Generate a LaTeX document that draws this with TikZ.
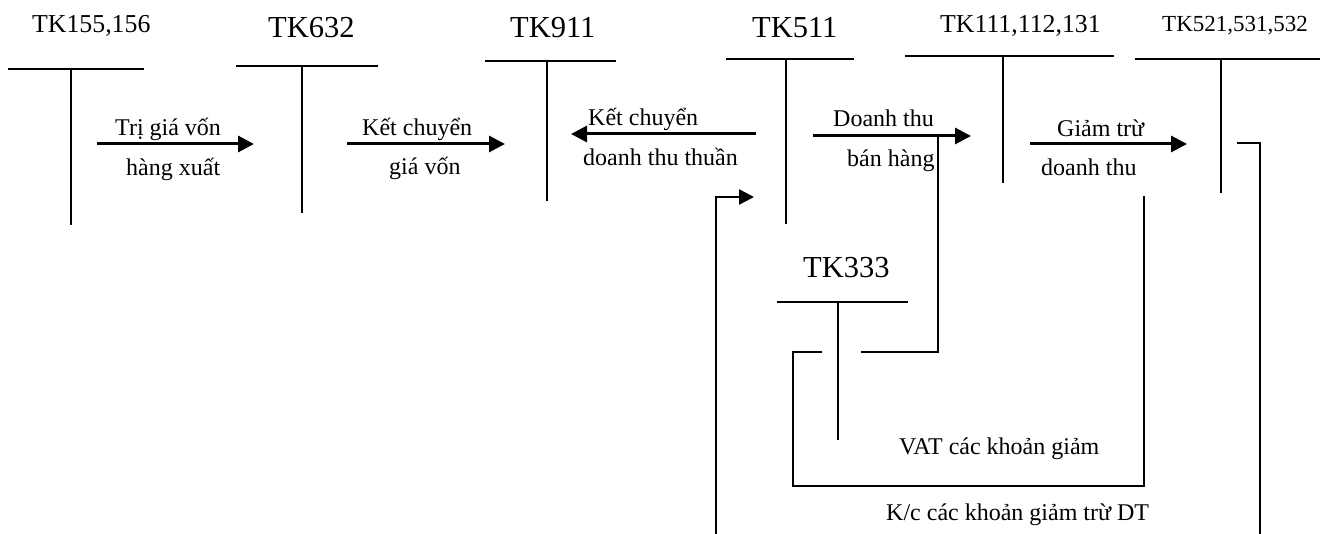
\documentclass[tikz,border=0pt]{standalone}
\usepackage{fontspec}
\setmainfont{Liberation Serif}
\usetikzlibrary{arrows.meta}
\tikzset{
  acct/.style={line width=2pt},
  flow/.style={line width=3pt,-{Triangle[length=16pt,width=16pt]}},
  flowsm/.style={line width=2.5pt,-{Triangle[length=15pt,width=15pt]}},
  link/.style={line width=2pt},
  txt/.style={inner sep=0pt,anchor=base west,font=\fontsize{24}{28}\selectfont},
  bigtk/.style={inner sep=0pt,anchor=base west,font=\fontsize{30.5}{34}\selectfont},
  midtk/.style={inner sep=0pt,anchor=base west,font=\fontsize{25.8}{30}\selectfont},
  smtk/.style={inner sep=0pt,anchor=base west,font=\fontsize{23}{27}\selectfont},
}
\begin{document}
\begin{tikzpicture}[x=1pt,y=-1pt]
\useasboundingbox (0,0) rectangle (1325,534);
% account titles
\node[midtk] (t155) at (32,33) {TK155,156};
\node[bigtk] (t632) at (268,38) {TK632};
\node[bigtk] (t911) at (510,38) {TK911};
\node[bigtk] (t511) at (752,38) {TK511};
\node[midtk] (t111) at (940,33) {TK111,112,131};
\node[smtk]  (t521) at (1162,32) {TK521,531,532};
\node[bigtk] (t333) at (803,278) {TK333};
% T-account geometry
\coordinate (a1l) at (8,69);    \coordinate (a1r) at (144,69);  \coordinate (a1t) at (71,69);   \coordinate (a1b) at (71,225);
\coordinate (a2l) at (236,66);  \coordinate (a2r) at (378,66);  \coordinate (a2t) at (302,66);  \coordinate (a2b) at (302,213);
\coordinate (a3l) at (485,61);  \coordinate (a3r) at (616,61);  \coordinate (a3t) at (547,61);  \coordinate (a3b) at (547,201);
\coordinate (a4l) at (726,59);  \coordinate (a4r) at (854,59);  \coordinate (a4t) at (786,59);  \coordinate (a4b) at (786,224);
\coordinate (a5l) at (905,56);  \coordinate (a5r) at (1114,56); \coordinate (a5t) at (1003,56); \coordinate (a5b) at (1003,183);
\coordinate (a6l) at (1135,59); \coordinate (a6r) at (1320,59); \coordinate (a6t) at (1221,59); \coordinate (a6b) at (1221,193);
\coordinate (a7l) at (777,302); \coordinate (a7r) at (908,302); \coordinate (a7t) at (838,302); \coordinate (a7b) at (838,440);
\foreach \i in {1,...,7}{
  \draw[acct] (a\i l) -- (a\i r);
  \draw[acct] (a\i t) -- (a\i b);
}
% flow arrows
\coordinate (f1s) at (97,144);   \coordinate (f1e) at (254,144);
\coordinate (f2s) at (347,144);  \coordinate (f2e) at (505,144);
\coordinate (f3s) at (756,134);  \coordinate (f3e) at (571,134);
\coordinate (f4s) at (813,136);  \coordinate (f4e) at (971,136);
\coordinate (f5s) at (1030,144); \coordinate (f5e) at (1187,144);
\draw[flow] (f1s) -- (f1e);
\draw[flow] (f2s) -- (f2e);
\draw[flow] (f3s) -- (f3e);
\draw[flow] (f4s) -- (f4e);
\draw[flow] (f5s) -- (f5e);
% bottom arrow into TK511
\coordinate (b1) at (716,534); \coordinate (b2) at (754,197);
\draw[flowsm] (b1) |- (b2);
% Doanh thu -> TK333
\coordinate (d1) at (938,136); \coordinate (d2) at (938,352); \coordinate (d3) at (861,352);
\draw[link] (d1) -- (d2) -- (d3);
% K/c link
\coordinate (k1) at (822,352); \coordinate (k2) at (793,352); \coordinate (k3) at (793,486);
\coordinate (k4) at (1144,486); \coordinate (k5) at (1144,196);
\draw[link] (k1) -- (k2) -- (k3) -- (k4) -- (k5);
% right tick
\coordinate (r1) at (1237,143); \coordinate (r2) at (1260,143); \coordinate (r3) at (1260,534);
\draw[link] (r1) -- (r2) -- (r3);
% labels
\node[txt] (l1a) at (115,136) {Trị giá vốn};
\node[txt] (l1b) at (126,176) {hàng xuất};
\node[txt] (l2a) at (362,136) {Kết chuyển};
\node[txt] (l2b) at (389,175) {giá vốn};
\node[txt] (l3a) at (588,126) {Kết chuyển};
\node[txt] (l3b) at (583,166) {doanh thu thuần};
\node[txt] (l4a) at (833,127) {Doanh thu};
\node[txt] (l4b) at (847,167) {bán hàng};
\node[txt] (l5a) at (1057,137) {Giảm trừ};
\node[txt] (l5b) at (1041,176) {doanh thu};
\node[txt] (l6) at (899,454) {VAT các khoản giảm};
\node[txt] (l7) at (886,520) {K/c các khoản giảm trừ DT};
\end{tikzpicture}
\end{document}
